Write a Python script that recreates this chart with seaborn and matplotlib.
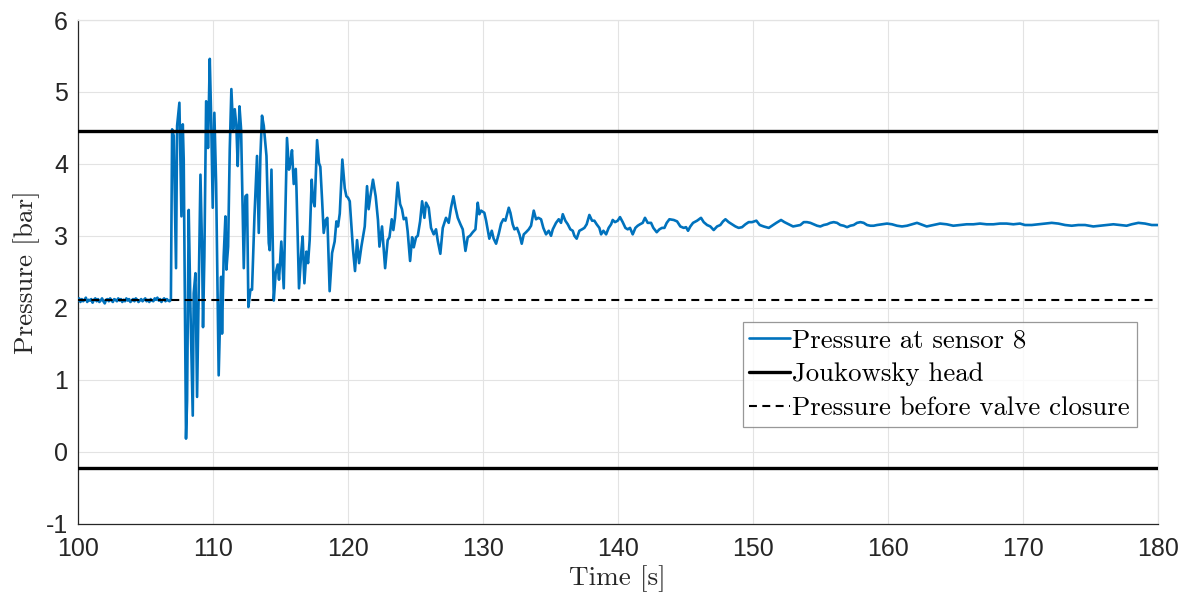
import matplotlib
matplotlib.use("Agg")
import matplotlib.pyplot as plt
import pandas as pd
import seaborn as sns

# Measured pressure at sensor 8 before and during the valve-closure transient
baseline_time_s = [
    100.0, 100.1, 100.2, 100.3, 100.4, 100.5, 100.6, 100.7, 100.8, 100.9,
    101.0, 101.1, 101.2, 101.3, 101.4, 101.5, 101.6, 101.7, 101.8, 101.9,
    102.0, 102.1, 102.2, 102.3, 102.4, 102.5, 102.6, 102.7, 102.8, 102.9,
    103.0, 103.1, 103.2, 103.3, 103.4, 103.5, 103.6, 103.7, 103.8, 103.9,
    104.0, 104.1, 104.2, 104.3, 104.4, 104.5, 104.6, 104.7, 104.8, 104.9,
    105.0, 105.1, 105.2, 105.3, 105.4, 105.5, 105.6, 105.7, 105.8, 105.9,
    106.0, 106.1, 106.2, 106.3, 106.4, 106.5, 106.6, 106.7, 106.8, 106.9,
]
baseline_pressure_bar = [
    2.10, 2.13, 2.08, 2.12, 2.09, 2.11, 2.14, 2.08, 2.11, 2.10,
    2.12, 2.07, 2.11, 2.13, 2.09, 2.12, 2.08, 2.10, 2.13, 2.09,
    2.06, 2.11, 2.12, 2.09, 2.13, 2.10, 2.08, 2.12, 2.11, 2.09,
    2.13, 2.10, 2.12, 2.08, 2.11, 2.09, 2.13, 2.10, 2.12, 2.08,
    2.10, 2.12, 2.09, 2.13, 2.11, 2.08, 2.10, 2.12, 2.09, 2.11,
    2.13, 2.09, 2.11, 2.08, 2.12, 2.10, 2.09, 2.13, 2.11, 2.14,
    2.10, 2.12, 2.08, 2.11, 2.13, 2.09, 2.12, 2.10, 2.09, 2.11,
]

transient_time_s = [
    106.99, 107.11, 107.28, 107.36, 107.53, 107.60, 107.68, 107.78, 107.85,
    108.02, 108.10, 108.22, 108.35, 108.52, 108.59, 108.72, 108.84, 108.96,
    109.09, 109.21, 109.28, 109.38, 109.51, 109.58, 109.65, 109.78, 109.88,
    110.00, 110.12, 110.25, 110.44, 110.62, 110.69, 110.81, 110.94, 111.01,
    111.14, 111.26, 111.38, 111.51, 111.63, 111.75, 111.85, 111.98, 112.10,
    112.30, 112.42, 112.54, 112.64, 112.79, 112.91, 113.09, 113.28, 113.41,
    113.53, 113.65, 113.78, 113.98, 114.15, 114.22, 114.35, 114.52, 114.66,
    114.81, 114.91, 115.08, 115.26, 115.50, 115.65, 115.75, 115.87, 116.00,
    116.15, 116.20, 116.39, 116.57, 116.66, 116.79, 116.94, 117.06, 117.18,
    117.33, 117.43, 117.55, 117.73, 117.87, 117.97, 118.10, 118.22, 118.37,
    118.49, 118.66, 118.84, 119.03, 119.16, 119.28, 119.41, 119.60, 119.78,
    119.90, 120.02, 120.15, 120.39, 120.54, 120.69, 120.84, 121.01, 121.26,
    121.43, 121.55, 121.68, 121.87, 122.07, 122.24, 122.35, 122.54, 122.77,
    122.96, 123.09, 123.26, 123.38, 123.50, 123.70, 123.88, 124.02, 124.15,
    124.32, 124.44, 124.62, 124.77, 124.89, 125.06, 125.19, 125.36, 125.51,
    125.68, 125.80, 126.00, 126.17, 126.37, 126.54, 126.67, 126.86, 127.04,
    127.28, 127.48, 127.65, 127.83, 127.98, 128.15, 128.35, 128.52, 128.72,
    128.89, 129.06, 129.26, 129.46, 129.63, 129.75, 129.88, 130.12, 130.25,
    130.49, 130.67, 130.81, 130.99, 131.19, 131.36, 131.53, 131.68, 131.93,
    132.05, 132.22, 132.35, 132.54, 132.72, 132.89, 133.04, 133.21, 133.41,
    133.58, 133.78, 133.95, 134.12, 134.32, 134.49, 134.69, 134.89, 135.06,
    135.19, 135.43, 135.63, 135.80, 135.93, 136.12, 136.30, 136.49, 136.67,
    136.79, 136.96, 137.16, 137.36, 137.53, 137.70, 137.90, 138.10, 138.27,
    138.44, 138.64, 138.77, 138.94, 139.14, 139.33, 139.51, 139.63, 139.80,
    140.00, 140.17, 140.37, 140.57, 140.74, 140.91, 141.11, 141.31, 141.48,
    141.65, 141.85, 142.02, 142.22, 142.47, 142.64, 142.89, 143.09, 143.28,
    143.46, 143.63, 143.83, 144.15, 144.40, 144.64, 144.89, 145.06, 145.21,
    145.38, 145.58, 145.88, 146.17, 146.37, 146.62, 146.86, 147.11, 147.36,
    147.60, 147.80, 147.98, 148.22, 148.47, 148.72, 148.96, 149.21, 149.46,
    149.70, 149.95, 150.27, 150.52, 150.81, 151.19, 151.43, 151.75, 152.10,
    152.35, 152.67, 152.99, 153.28, 153.53, 153.78, 154.02, 154.27, 154.52,
    154.77, 155.01, 155.26, 155.51, 155.75, 156.00, 156.25, 156.49, 156.74,
    156.99, 157.23, 157.48, 157.73, 157.98, 158.22, 158.47, 158.72, 158.96,
    159.21, 159.58, 159.95, 160.32, 160.69, 161.06, 161.43, 161.80, 162.17,
    162.89, 163.38, 163.88, 164.37, 164.86, 165.36, 165.85, 166.35, 166.84,
    167.33, 167.83, 168.32, 168.81, 169.31, 169.80, 170.17, 170.67, 171.16,
    171.65, 172.15, 172.64, 173.14, 173.63, 174.12, 174.62, 175.23, 175.73,
    176.22, 176.72, 177.21, 177.70, 178.07, 178.57, 179.06, 179.56, 180.00,
]
transient_pressure_bar = [
    4.48, 4.39, 2.55, 4.53, 4.85, 4.11, 3.27, 4.55, 4.06,
    0.18, 0.71, 3.36, 1.97, 0.50, 2.20, 2.48, 0.76, 2.20,
    3.85, 2.80, 1.73, 2.71, 4.87, 4.85, 4.22, 5.46, 4.67,
    3.39, 4.71, 3.73, 1.06, 2.43, 1.64, 2.71, 3.27, 2.53,
    2.85, 4.20, 5.04, 4.48, 4.76, 4.53, 3.97, 4.80, 4.48,
    2.55, 3.55, 3.57, 2.01, 2.25, 2.25, 3.27, 4.11, 3.04,
    4.11, 4.67, 4.53, 4.11, 2.90, 2.80, 3.92, 2.10, 2.48,
    2.60, 2.39, 2.92, 2.27, 4.36, 3.92, 4.01, 4.19, 3.72,
    3.93, 3.67, 2.27, 2.80, 2.99, 2.34, 2.78, 2.62, 2.94,
    3.78, 3.50, 3.41, 4.33, 4.01, 3.96, 3.50, 3.04, 3.22,
    3.25, 2.23, 2.76, 2.92, 3.20, 3.13, 3.31, 4.06, 3.66,
    3.55, 3.53, 3.48, 2.81, 2.51, 2.94, 2.62, 2.85, 3.13,
    3.69, 3.37, 3.55, 3.78, 3.55, 3.22, 2.85, 3.13, 2.55,
    2.94, 2.98, 3.23, 3.08, 3.25, 3.74, 3.44, 3.37, 3.23,
    3.25, 3.06, 2.65, 2.98, 2.84, 2.98, 3.00, 3.20, 3.48,
    3.25, 3.46, 3.39, 3.11, 3.02, 3.09, 2.93, 2.75, 3.11,
    3.25, 3.18, 3.39, 3.55, 3.39, 3.25, 3.16, 3.09, 2.79,
    2.98, 3.00, 3.05, 3.09, 3.46, 3.30, 3.35, 3.32, 3.21,
    2.96, 3.07, 2.96, 2.89, 3.03, 3.17, 3.23, 3.21, 3.39,
    3.32, 3.16, 3.09, 3.11, 3.02, 2.89, 3.02, 3.05, 3.09,
    3.14, 3.35, 3.23, 3.25, 3.23, 3.11, 3.02, 3.07, 3.00,
    3.09, 3.18, 3.23, 3.18, 3.30, 3.21, 3.16, 3.09, 3.07,
    3.00, 2.96, 3.07, 3.09, 3.11, 3.16, 3.29, 3.21, 3.21,
    3.16, 3.11, 3.02, 3.07, 3.02, 3.11, 3.16, 3.22, 3.19,
    3.21, 3.26, 3.19, 3.11, 3.09, 3.11, 3.02, 3.11, 3.14,
    3.16, 3.18, 3.25, 3.18, 3.18, 3.11, 3.05, 3.09, 3.11,
    3.11, 3.18, 3.23, 3.22, 3.20, 3.13, 3.11, 3.12, 3.07,
    3.13, 3.18, 3.21, 3.25, 3.19, 3.15, 3.13, 3.08, 3.13,
    3.15, 3.20, 3.23, 3.19, 3.16, 3.13, 3.11, 3.12, 3.16,
    3.19, 3.19, 3.21, 3.15, 3.13, 3.11, 3.14, 3.18, 3.22,
    3.19, 3.16, 3.13, 3.14, 3.15, 3.19, 3.19, 3.18, 3.16,
    3.14, 3.13, 3.15, 3.16, 3.18, 3.19, 3.18, 3.15, 3.14,
    3.12, 3.14, 3.15, 3.18, 3.19, 3.18, 3.15, 3.14, 3.14,
    3.15, 3.16, 3.17, 3.16, 3.14, 3.13, 3.14, 3.16, 3.18,
    3.13, 3.15, 3.17, 3.16, 3.14, 3.15, 3.16, 3.16, 3.17,
    3.16, 3.16, 3.17, 3.17, 3.16, 3.17, 3.15, 3.15, 3.16,
    3.17, 3.18, 3.17, 3.15, 3.14, 3.15, 3.15, 3.13, 3.14,
    3.15, 3.16, 3.15, 3.14, 3.16, 3.18, 3.17, 3.15, 3.15,
]

# Reference levels
joukowsky_upper = 4.46
joukowsky_lower = -0.23
pressure_before_closure = 2.11

x_limits = (100, 180)
y_limits = (-1, 6)
x_ticks = [100, 110, 120, 130, 140, 150, 160, 170, 180]
y_ticks = [-1, 0, 1, 2, 3, 4, 5, 6]

series_label = "Pressure at sensor 8"
joukowsky_label = "Joukowsky head"
before_label = "Pressure before valve closure"

sns.set_theme(style="whitegrid")
plt.rcParams["axes.unicode_minus"] = False
plt.rcParams["font.family"] = ["Liberation Sans", "DejaVu Sans"]

df = pd.DataFrame({
    "Time": baseline_time_s + transient_time_s,
    "Pressure": baseline_pressure_bar + transient_pressure_bar,
})

fig = plt.figure(figsize=(11.87, 5.99), dpi=100)
ax = fig.add_axes([0.0655, 0.1260, 0.9753 - 0.0655, 0.9666 - 0.1260])

blue = "#0072BD"
sns.lineplot(data=df, x="Time", y="Pressure", ax=ax, color=blue, lw=1.9,
             estimator=None, sort=False, label=series_label, zorder=3)
ax.axhline(joukowsky_upper, color="black", lw=2.4, label=joukowsky_label, zorder=4)
ax.axhline(joukowsky_lower, color="black", lw=2.4, zorder=4)
ax.axhline(pressure_before_closure, color="black", lw=1.5, dashes=(3.8, 2.6),
           label=before_label, zorder=4)

ax.set_xlim(*x_limits)
ax.set_ylim(*y_limits)
ax.set_xticks(x_ticks)
ax.set_yticks(y_ticks)
ax.grid(True, color="#e3e3e3", lw=0.8)
ax.set_facecolor("white")

for side in ("left", "bottom"):
    ax.spines[side].set_color("#262626")
    ax.spines[side].set_linewidth(0.9)
for side in ("top", "right"):
    ax.spines[side].set_color("#e3e3e3")
    ax.spines[side].set_linewidth(0.9)

ax.tick_params(axis="both", direction="in", length=3.6, width=0.8,
               color="#262626", labelcolor="#262626", labelsize=18)
ax.tick_params(axis="x", pad=10)
ax.tick_params(axis="y", pad=7)

label_font = {"family": "cmr10", "size": 19.6}
legend_font = {"family": "cmr10", "size": 19.3}
ax.set_xlabel("Time [s]", fontdict=label_font, color="#262626", labelpad=3)
ax.set_ylabel("Pressure [bar]", fontdict=label_font, color="#262626", labelpad=4)

leg = ax.legend(loc="upper left", bbox_to_anchor=(0.6157, 0.4008),
                borderaxespad=0, prop=legend_font, frameon=True, fancybox=False,
                handlelength=1.5, handletextpad=0.1, borderpad=0.25,
                labelspacing=0.38)
leg.get_frame().set_edgecolor("#7f7f7f")
leg.get_frame().set_linewidth(0.9)
for txt in leg.get_texts():
    txt.set_color("black")

fig.savefig("out.png", dpi=100, facecolor="white")
